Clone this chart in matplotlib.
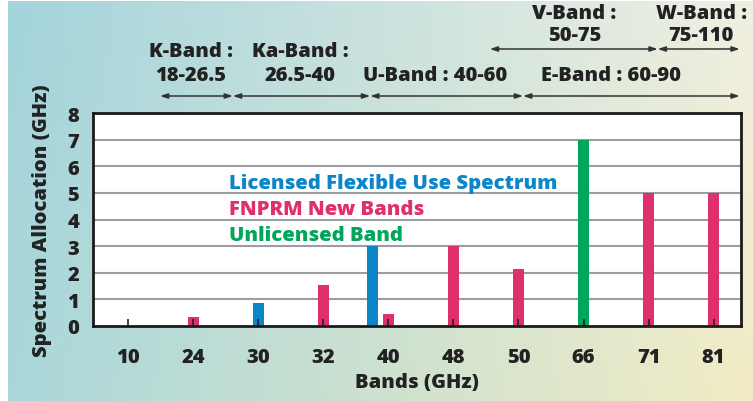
import matplotlib.pyplot as plt
import numpy as np

# categories on the x axis (GHz)
bands = ["10", "24", "30", "32", "40", "48", "50", "66", "71", "81"]

# licensed flexible use spectrum (the 39 GHz bar sits just left of the 40 tick)
lic_band = ["30", "40"]
lic_shift = [0.0, -0.24]
lic_vals = [0.85, 3.0]

# FNPRM new bands
fnprm_band = ["24", "32", "40", "48", "50", "71", "81"]
fnprm_vals = [0.35, 1.55, 0.45, 3.0, 2.15, 5.0, 5.0]

# unlicensed band
unlic_band = ["66"]
unlic_vals = [7.0]

# frequency band annotations above the chart: (name line, range line, centre x)
band_names_top = [("V-Band :", "50-75", 6.86), ("W-Band :", "75-110", 8.81)]
band_names_low = [("K-Band :", "18-26.5", 0.96), ("Ka-Band :", "26.5-40", 2.64)]
band_names_single = [("U-Band : 40-60", 4.72), ("E-Band : 60-90", 7.42)]
top_edges = [5.56, 8.14, 9.40]
low_edges = [0.49, 1.61, 3.72, 6.07, 9.40]

BLUE = "#0d86c7"
PINK = "#e02f6d"
GREEN = "#00a65a"
DARK = "#222222"
W = 800

plt.rcParams["font.family"] = ["Open Sans", "DejaVu Sans"]
plt.rcParams["font.weight"] = W
plt.rcParams["axes.labelweight"] = W


def gradient(w, h):
    tl = np.array([164, 212, 220]) / 255
    tr = np.array([240, 240, 226]) / 255
    bl = np.array([170, 215, 218]) / 255
    br = np.array([242, 236, 196]) / 255
    u = np.linspace(0, 1, w)[None, :, None]
    v = np.linspace(0, 1, h)[:, None, None]
    top = tl * (1 - u) + tr * u
    bot = bl * (1 - u) + br * u
    return top * (1 - v) + bot * v


fig = plt.figure(figsize=(7.53, 4.02), dpi=100)
fig.patch.set_facecolor("white")

bg = fig.add_axes([8 / 753, 0, 1 - 8 / 753, 1 - 2 / 402])
bg.imshow(gradient(200, 100), aspect="auto", interpolation="bicubic")
bg.set_axis_off()

ax = fig.add_axes([93 / 753, 1 - 327 / 402, 648 / 753, 213 / 402])
ax.set_facecolor("white")

idx = {b: i for i, b in enumerate(bands)}
w = 0.17

ax.bar([idx[b] + s for b, s in zip(lic_band, lic_shift)], lic_vals, width=w, color=BLUE, zorder=1)
ax.bar([idx[b] for b in fnprm_band], fnprm_vals, width=w, color=PINK, zorder=1)
ax.bar([idx[b] for b in unlic_band], unlic_vals, width=w, color=GREEN, zorder=1)

for y in range(1, 8):
    ax.axhline(y, color="#9c9ca6", lw=1.5, zorder=0.5)

ax.set_xlim(-0.54, 9.42)
ax.set_ylim(0, 8)
ax.set_xticks(range(len(bands)))
ax.set_xticklabels(bands, fontweight=W)
ax.set_yticks(range(0, 9))
ax.set_yticklabels([str(v) for v in range(0, 9)], fontweight=W)
ax.tick_params(axis="x", direction="in", length=5, width=1.2, color=DARK, pad=15,
               labelsize=14.5, labelcolor=DARK)
ax.tick_params(axis="y", length=0, pad=10, labelsize=14.5, labelcolor=DARK)
for sp in ax.spines.values():
    sp.set_linewidth(2)
    sp.set_color("#1a1a1a")

ax.set_xlabel("Bands (GHz)", fontsize=14.5, color=DARK, labelpad=4, fontweight=W)
ax.set_ylabel("Spectrum Allocation (GHz)", fontsize=14.5, color=DARK, labelpad=11, fontweight=W)

# colour legend written inside the plot
lkw = dict(fontsize=14.6, va="center", fontweight=W)
ax.text(1.55, 5.37, "Licensed Flexible Use Spectrum", color=BLUE, **lkw)
ax.text(1.55, 4.4, "FNPRM New Bands", color=PINK, **lkw)
ax.text(1.55, 3.42, "Unlicensed Band", color=GREEN, **lkw)

# band annotations
xy = ("data", "figure fraction")
arrow = dict(arrowstyle="<|-|>,head_length=0.45,head_width=0.15", color="#333333", lw=1.1,
             shrinkA=0, shrinkB=0)
kw = dict(xycoords=xy, ha="center", va="center", fontsize=14.5, color=DARK,
          fontweight=W, annotation_clip=False)
for name, rng, x in band_names_top:
    ax.annotate(name, (x, 1 - 14 / 402), **kw)
    ax.annotate(rng, (x, 1 - 36 / 402), **kw)
for name, rng, x in band_names_low:
    ax.annotate(name, (x, 1 - 52 / 402), **kw)
    ax.annotate(rng, (x, 1 - 76 / 402), **kw)
for name, x in band_names_single:
    ax.annotate(name, (x, 1 - 76 / 402), **kw)

for edges, yy in [(top_edges, 1 - 50 / 402), (low_edges, 1 - 97 / 402)]:
    for a, b in zip(edges[:-1], edges[1:]):
        ax.annotate("", xy=(b, yy), xytext=(a, yy), xycoords=xy, textcoords=xy,
                    arrowprops=arrow, annotation_clip=False)

fig.savefig("out.png", dpi=100)
